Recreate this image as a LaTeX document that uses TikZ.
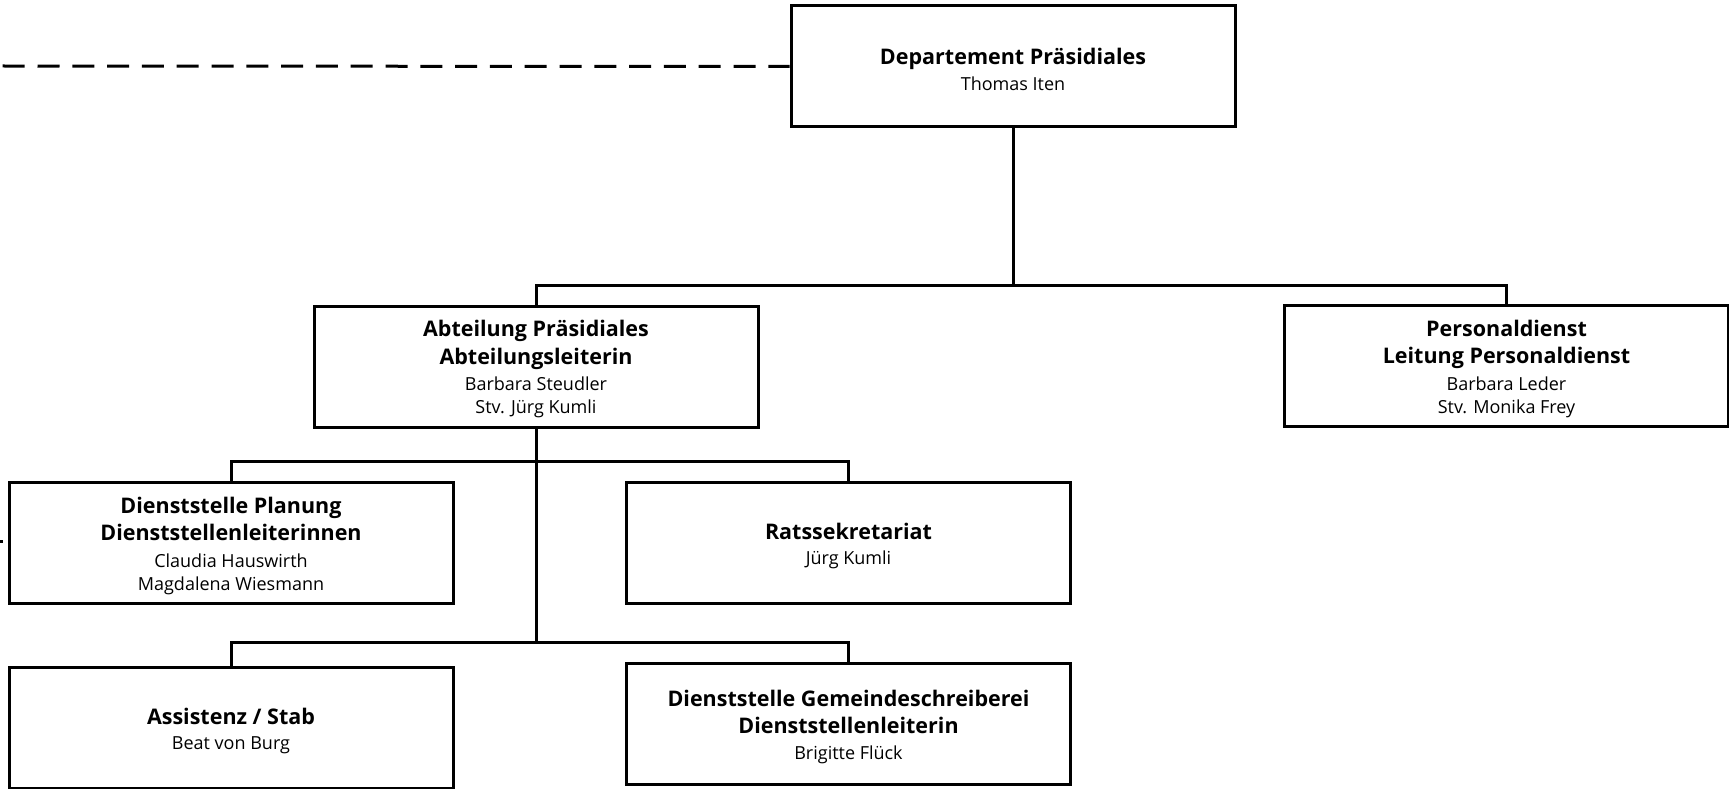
\documentclass[tikz,border=0pt]{standalone}
\usepackage{fontspec}
\setmainfont{Open Sans}
\begin{document}
\begin{tikzpicture}[x=1pt,y=-1pt,
  orgbox/.style={draw=black,line width=3pt,fill=white,minimum width=444pt,minimum height=121pt,inner sep=0pt,align=center,
    font=\fontsize{18}{26.5}\selectfont},
  conn/.style={draw=black,line width=3pt},
  dashline/.style={draw=black,line width=3pt,dash pattern=on 22pt off 12.8pt}]
\newcommand{\hb}[1]{{\bfseries\fontsize{21.5}{26.5}\selectfont #1}}
\newcommand{\hf}[1]{\rule{0pt}{22pt}\hb{#1}}
\useasboundingbox (0,0) rectangle (1729,789);

\node[orgbox] (top) at (1013,66.5) {\hf{Departement Präsidiales}\\[-1pt]Thomas Iten};
\node[orgbox] (abt) at (536,366.5) {\hf{Abteilung Präsidiales}\\[1pt]\hb{Abteilungsleiterin}\\Barbara Steudler\\[-3.5pt]Stv. Jürg Kumli};
\node[orgbox] (pers) at (1506.5,366) {\hf{Personaldienst}\\[1pt]\hb{Leitung Personaldienst}\\Barbara Leder\\[-3.5pt]Stv. Monika Frey};
\node[orgbox] (plan) at (231,543) {\hf{Dienststelle Planung}\\[1pt]\hb{Dienststellenleiterinnen}\\Claudia Hauswirth\\[-3.5pt]Magdalena Wiesmann};
\node[orgbox] (rats) at (848.5,543) {\hf{Ratssekretariat}\\[-1pt]Jürg Kumli};
\node[orgbox] (assist) at (231,728) {\hf{Assistenz / Stab}\\[-1pt]Beat von Burg};
\node[orgbox] (gem) at (848.5,724) {\hf{Dienststelle Gemeindeschreiberei}\\[1pt]\hb{Dienststellenleiterin}\\[-1pt]Brigitte Flück};

\coordinate (dstart) at (2.7,66);
\coordinate (tick) at (0,541);
\draw[dashline] (dstart) -- (top.west);
\draw[conn] (tick) -- ++(3,0);

\draw[conn] (top.south) -- (top.south |- 0,285);
\draw[conn] (abt.north) |- (pers.north |- 0,285) -- (pers.north);
\draw[conn] (abt.south) -- (abt.south |- 0,642);
\draw[conn] (plan.north) |- (rats.north |- 0,461) -- (rats.north);
\draw[conn] (assist.north) |- (gem.north |- 0,642) -- (gem.north);
\end{tikzpicture}
\end{document}
